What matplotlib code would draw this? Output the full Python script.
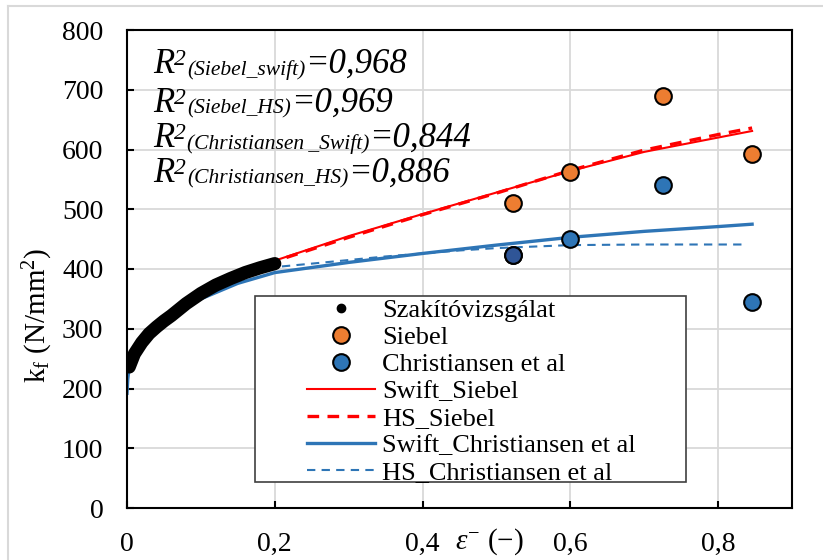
import numpy as np
import matplotlib
matplotlib.use("Agg")
import matplotlib.pyplot as plt
from matplotlib.patches import Rectangle

plt.rcParams['font.family'] = ['Liberation Serif', 'DejaVu Serif']
plt.rcParams['mathtext.fontset'] = 'custom'
plt.rcParams['mathtext.rm'] = 'Liberation Serif'
plt.rcParams['mathtext.it'] = 'Liberation Serif:italic'

# Szakitovizsgalat (measured flow curve)
eps_test = [0.003, 0.01, 0.02, 0.03, 0.04, 0.05, 0.06, 0.08, 0.10, 0.12, 0.14, 0.16, 0.18, 0.20]
kf_test = [236, 258, 277, 292, 303, 313, 322, 342, 359, 373, 384, 394, 402, 409]

# extrapolated points
eps_pts = [0.522, 0.600, 0.726, 0.846]
kf_siebel = [511, 563, 689, 592]
kf_christ = [424, 451, 540, 345]

# fitted curves
eps_sw_s = [0.19, 0.2, 0.3, 0.4, 0.5, 0.6, 0.7, 0.8, 0.846]
kf_sw_s = [410, 414, 455, 492, 528, 564, 596, 620, 631]
eps_hs_s = [0.19, 0.2, 0.3, 0.4, 0.5, 0.6, 0.7, 0.8, 0.846]
kf_hs_s = [409, 413, 453, 491, 527, 565, 599, 625, 636]
eps_sw_c = [0, 0.001, 0.003, 0.005, 0.01, 0.02, 0.03, 0.05, 0.075, 0.1, 0.15, 0.2, 0.3, 0.4, 0.5, 0.6, 0.7, 0.8, 0.846]
kf_sw_c = [192, 215, 237, 245, 258, 278, 291, 312, 333, 350, 376, 394, 411, 426, 440, 453, 463, 471, 475]
eps_hs_c = [0.19, 0.25, 0.3, 0.35, 0.4, 0.45, 0.5, 0.6, 0.7, 0.836]
kf_hs_c = [402, 409, 415, 421, 426, 431, 435, 440, 441, 441]

r2_names = ['(Siebel_swift)', '(Siebel_HS)', '(Christiansen\u2009_Swift)', '(Christiansen_HS)']
r2_values = ['0,968', '0,969', '0,844', '0,886']

W, H = 823, 560
fig = plt.figure(figsize=(W / 100, H / 100), dpi=100)
ax = fig.add_axes([127 / W, 1 - 508 / H, 665 / W, 478 / H])

orange = '#ED7D31'
blue = '#2E75B6'

l_swc, = ax.plot(eps_sw_c, kf_sw_c, '-', color=blue, lw=2.4, zorder=2)
l_hsc, = ax.plot(eps_hs_c, kf_hs_c, '--', color=blue, lw=1.5, dashes=(4, 3), zorder=2)
l_sws, = ax.plot(eps_sw_s, kf_sw_s, '-', color='red', lw=1.5, zorder=2)
l_hss, = ax.plot(eps_hs_s, kf_hs_s, '--', color='red', lw=2.4, dashes=(3.5, 2.5), zorder=2)
ax.plot(eps_test, kf_test, '-', color='black', lw=9.5, solid_capstyle='round', zorder=3)
l_test, = ax.plot(eps_test, kf_test, 'o', color='black', ms=6, zorder=3)
l_sieb, = ax.plot(eps_pts, kf_siebel, 'o', ls='none', mfc=orange, mec='black', mew=1.5, ms=12, zorder=4)
l_chr, = ax.plot(eps_pts, kf_christ, 'o', ls='none', mfc=blue, mec='black', mew=1.5, ms=12, zorder=4)
ax.plot(eps_pts[:1], kf_christ[:1], 'o', ls='none', mfc='#2F5597', mec='black', mew=1.5, ms=12, zorder=4)

ax.set_xlim(0, 0.9)
ax.set_ylim(0, 800)
ax.set_xticks([0, 0.2, 0.4, 0.6, 0.8])
ax.set_xticklabels(['0', '0,2', '0,4', '0,6', '0,8'])
ax.set_yticks(range(0, 801, 100))
ax.tick_params(direction='in', length=5, width=1.5, labelsize=20, color='black')
ax.tick_params(axis='y', pad=17)
ax.tick_params(axis='x', pad=17)
ax.grid(True, color='#D9D9D9', lw=1.3)
ax.set_axisbelow(True)
for s in ax.spines.values():
    s.set_linewidth(1.5)

ax.set_ylabel('k$_\\mathrm{f}$ (N/mm$^2$)', fontsize=21)
ax.yaxis.set_label_coords((55 - 127) / 665, (508 - 315) / 478)
fig.text(455 / W, 1 - 549 / H, '$\\varepsilon^{-}$ (\u2212)', fontsize=21, ha='left', va='baseline')

# R^2 annotations, built piece by piece
renderer = fig.canvas.get_renderer()
base_y = [72.7, 111.7, 146.7, 181.7]
for name, val, by in zip(r2_names, r2_values, base_y):
    y = H - by
    t = fig.text(153 / W, y / H, 'R', fontsize=25, style='italic', va='baseline')
    x = t.get_window_extent(renderer).x1
    t = fig.text(x / W, (y + 8) / H, '2', fontsize=17, style='italic', va='baseline')
    x = t.get_window_extent(renderer).x1 + 1
    t = fig.text(x / W, (y - 2) / H, name, fontsize=15.5, style='italic', va='baseline')
    x = t.get_window_extent(renderer).x1
    fig.text(x / W, y / H, '=' + val, fontsize=25, style='italic', va='baseline')

# legend box
box = Rectangle(((255 - 127) / 665, (508 - 482) / 478), 431 / 665, (482 - 296) / 478,
                transform=ax.transAxes, fc='white', ec='#404040', lw=1.2, zorder=5)
ax.add_patch(box)

handles = [l_test, l_sieb, l_chr, l_sws, l_hss, l_swc, l_hsc]
labels = ['Szakítóvizsgálat', 'Siebel', 'Christiansen et al', 'Swift_Siebel', 'HS_Siebel',
          'Swift_Christiansen et al', 'HS_Christiansen et al']
leg = ax.legend(handles, labels, loc='upper left', bbox_to_anchor=((307 - 127) / 665, (508 - 299) / 478),
                frameon=False, fontsize=19, borderpad=0, borderaxespad=0, labelspacing=0.13,
                handlelength=2.58, handletextpad=0.27)
leg.set_zorder(6)

# chart area border (left and top visible)
fig.add_artist(plt.Line2D([8 / W, 8 / W], [0, 1 - 6 / H], color='#D9D9D9', lw=1.5))
fig.add_artist(plt.Line2D([8 / W, 1], [1 - 6 / H, 1 - 6 / H], color='#D9D9D9', lw=1.5))

fig.savefig('out.png', dpi=100)
